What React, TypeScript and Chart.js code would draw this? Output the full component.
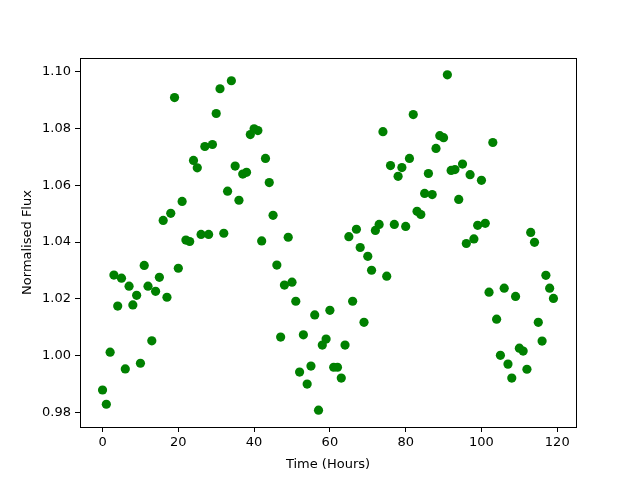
import React, { useEffect, useRef } from "react";
import { Chart, registerables } from "chart.js";

Chart.register(...registerables);

const hours: number[] = Array.from({ length: 120 }, (_, i) => i);
const flux: number[] = [
  0.988, 0.983, 1.0013, 1.0284, 1.0175, 1.0273, 0.9954, 1.0245, 1.0179, 1.0213,
  0.9974, 1.0318, 1.0245, 1.0053, 1.0227, 1.0276, 1.0476, 1.0206, 1.0501, 1.0908,
  1.0308, 1.0543, 1.0407, 1.0402, 1.0687, 1.0661, 1.0427, 1.0736, 1.0427, 1.0743,
  1.0852, 1.0939, 1.0431, 1.0579, 1.0967, 1.0667, 1.0547, 1.0639, 1.0645, 1.0778,
  1.0798, 1.0792, 1.0404, 1.0694, 1.0609, 1.0494, 1.0319, 1.0066, 1.0249, 1.0417,
  1.0259, 1.0192, 0.9943, 1.0074, 0.9901, 0.9964, 1.0144, 0.9809, 1.0038, 1.0059,
  1.016, 0.996, 0.996, 0.9922, 1.0038, 1.0419, 1.0192, 1.0445, 1.0381, 1.0118,
  1.035, 1.0301, 1.0441, 1.0462, 1.0788, 1.028, 1.0669, 1.0462, 1.0631, 1.0662,
  1.0455, 1.0694, 1.0848, 1.0508, 1.0497, 1.0571, 1.0641, 1.0567, 1.0729, 1.0774,
  1.0767, 1.0988, 1.0652, 1.0655, 1.055, 1.0674, 1.0395, 1.0637, 1.0411, 1.0459,
  1.0617, 1.0466, 1.0224, 1.075, 1.0129, 1.0002, 1.0238, 0.9971, 0.9922, 1.0209,
  1.0027, 1.0017, 0.9953, 1.0434, 1.0399, 1.0118, 1.0052, 1.0283, 1.0238, 1.0202,
];
const xTicks: number[] = [0, 20, 40, 60, 80, 100, 120];
const yTicks: number[] = [0.98, 1.0, 1.02, 1.04, 1.06, 1.08, 1.1];
const xTitle = "Time (Hours)";
const yTitle = "Normalised Flux";

const FONT = "'DejaVu Sans', sans-serif";

const frame = {
  id: "frame",
  afterDraw(chart: any) {
    const { ctx, chartArea } = chart;
    ctx.save();
    ctx.strokeStyle = "#000";
    ctx.lineWidth = 1;
    ctx.strokeRect(
      Math.round(chartArea.left) + 0.5,
      Math.round(chartArea.top) + 0.5,
      Math.round(chartArea.right - chartArea.left),
      Math.round(chartArea.bottom - chartArea.top)
    );
    ctx.restore();
  },
};

export default function App() {
  const ref = useRef<HTMLCanvasElement>(null);
  useEffect(() => {
    if (!ref.current) return;
    const chart = new Chart(ref.current, {
      type: "scatter",
      data: {
        datasets: [
          {
            data: hours.map((h, i) => ({ x: h, y: flux[i] })),
            backgroundColor: "#008000",
            borderColor: "#008000",
            borderWidth: 0,
            pointRadius: 4.6,
          },
        ],
      },
      options: {
        responsive: false,
        animation: false,
        layout: { padding: { left: 20, right: 64, top: 58, bottom: 8 } },
        plugins: { legend: { display: false }, tooltip: { enabled: false } },
        scales: {
          x: {
            type: "linear",
            min: -5.95,
            max: 124.95,
            afterBuildTicks: (s: any) => {
              s.ticks = xTicks.map((v) => ({ value: v }));
            },
            afterFit: (s: any) => {
              s.height = 45;
            },
            grid: {
              drawOnChartArea: false,
              drawTicks: true,
              tickLength: 5,
              color: "#000",
            },
            border: { display: true, color: "#000" },
            ticks: {
              color: "#000",
              padding: 3,
              font: { family: FONT, size: 13 },
              maxRotation: 0,
              callback: (v: any) => String(v),
            },
            title: {
              display: true,
              text: xTitle,
              color: "#000",
              font: { family: FONT, size: 13 },
              padding: { top: 2, bottom: 0 },
            },
          },
          y: {
            type: "linear",
            min: 0.975,
            max: 1.1047,
            afterBuildTicks: (s: any) => {
              s.ticks = yTicks.map((v) => ({ value: v }));
            },
            afterFit: (s: any) => {
              s.width = 60;
            },
            grid: {
              drawOnChartArea: false,
              drawTicks: true,
              tickLength: 5,
              color: "#000",
            },
            border: { display: true, color: "#000" },
            ticks: {
              color: "#000",
              padding: 4,
              font: { family: FONT, size: 13 },
              callback: (v: any) => Number(v).toFixed(2),
            },
            title: {
              display: true,
              text: yTitle,
              color: "#000",
              font: { family: FONT, size: 13 },
              padding: { top: 0, bottom: 0 },
            },
          },
        },
      },
      plugins: [frame],
    });
    return () => chart.destroy();
  }, []);
  return (
    <div style={{ position: "fixed", left: 0, top: 0, width: 640, height: 480, background: "#fff" }}>
      <canvas ref={ref} width={640} height={480} />
    </div>
  );
}
